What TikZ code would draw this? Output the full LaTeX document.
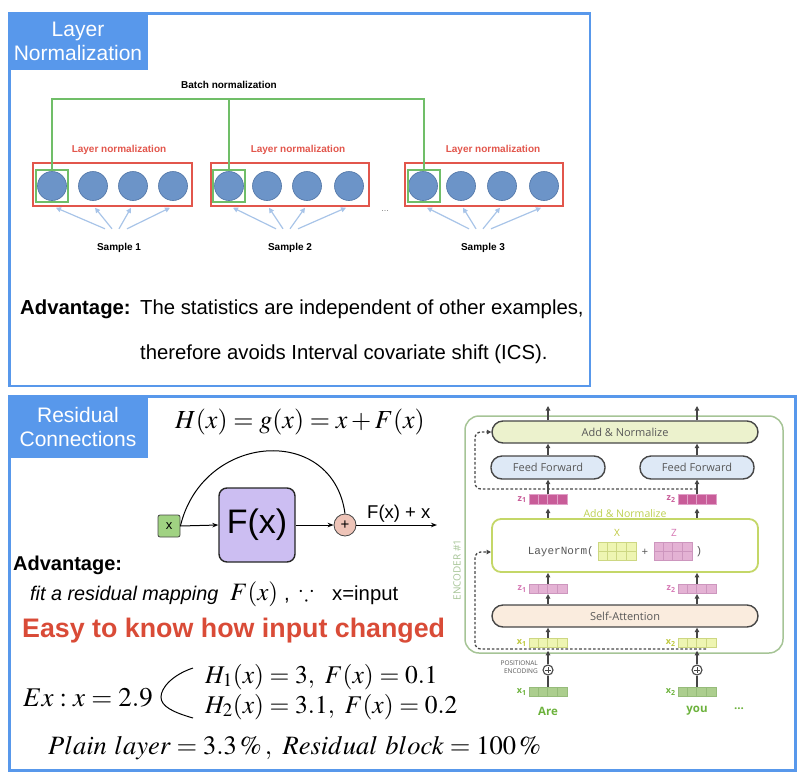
\documentclass[tikz,border=0pt]{standalone}
\usepackage{mathptmx}
\usepackage{amssymb}
\usepackage[no-math]{fontspec}
\setmainfont{Liberation Sans}
\newfontfamily\osans{Open Sans}
\newfontfamily\lmono{Liberation Mono}
\usetikzlibrary{arrows.meta,calc}
\definecolor{pblue}{RGB}{88,152,235}
\definecolor{nfill}{RGB}{108,148,200}
\definecolor{ndraw}{RGB}{78,115,165}
\definecolor{lnred}{RGB}{226,86,76}
\definecolor{bngreen}{RGB}{112,190,104}
\definecolor{sblue}{RGB}{168,196,232}
\definecolor{easyred}{RGB}{217,75,55}
\definecolor{encgreen}{RGB}{166,196,150}
\definecolor{dgray}{RGB}{70,70,70}
\definecolor{tgray}{RGB}{88,88,88}
\definecolor{addfill}{RGB}{236,242,205}
\definecolor{fffill}{RGB}{222,233,246}
\definecolor{safill}{RGB}{250,236,222}
\definecolor{lnline}{RGB}{196,215,104}
\definecolor{anlabel}{RGB}{188,208,80}
\definecolor{zdfill}{RGB}{200,92,152}
\definecolor{zdline}{RGB}{225,160,200}
\definecolor{zlfill}{RGB}{228,178,212}
\definecolor{zlline}{RGB}{205,150,190}
\definecolor{zlabel}{RGB}{214,120,180}
\definecolor{xyfill}{RGB}{238,245,178}
\definecolor{xyline}{RGB}{205,215,130}
\definecolor{xylabel}{RGB}{190,200,60}
\definecolor{xgfill}{RGB}{172,206,142}
\definecolor{xgline}{RGB}{150,188,122}
\definecolor{wgreen}{RGB}{108,178,60}
\definecolor{xboxfill}{RGB}{160,210,130}
\definecolor{fxfill}{RGB}{204,190,242}
\definecolor{plusfill}{RGB}{238,196,184}
\tikzset{
  panelline/.style={draw=pblue, line width=2.6pt},
  titlebox/.style={fill=pblue, text=white, minimum width=139pt, align=center, inner sep=0pt, font=\fontsize{21}{24}\selectfont},
  neuron/.style={circle, fill=nfill, draw=ndraw, line width=0.6pt, minimum size=29pt, inner sep=0pt},
  lnbox/.style={draw=lnred, line width=1.5pt, minimum height=43pt, inner sep=0pt},
  bnbox/.style={draw=bngreen, line width=1.3pt, minimum size=32pt, inner sep=0pt},
  bnline/.style={draw=bngreen, line width=1.3pt},
  sarrow/.style={draw=sblue, line width=1.2pt, -{Triangle[length=5pt,width=5pt]}},
  smalllabel/.style={font=\bfseries\fontsize{10}{12}\selectfont},
  lnlabel/.style={font=\bfseries\fontsize{10}{12}\selectfont, text=lnred},
  bodytext/.style={anchor=base west, inner sep=0pt, font=\fontsize{20.3}{22}\selectfont},
  mathtext/.style={anchor=base west, inner sep=0pt, font=\fontsize{26}{30}\selectfont},
  resarrow/.style={draw=black, line width=1pt, -{Stealth[length=6pt,width=4.5pt]}},
  xbox/.style={draw=dgray, fill=xboxfill, line width=0.8pt, rounded corners=2pt, minimum size=22pt, inner sep=0pt, font=\fontsize{13}{14}\selectfont},
  fxbox/.style={draw=black!85, fill=fxfill, line width=1.4pt, rounded corners=8pt, minimum width=76pt, minimum height=74pt, inner sep=0pt, font=\fontsize{34}{36}\selectfont},
  plusnode/.style={circle, draw=dgray, fill=plusfill, line width=0.8pt, minimum size=22pt, inner sep=0pt, font=\fontsize{15}{16}\selectfont},
  pill/.style={draw=dgray, line width=1.4pt, rounded corners=11pt, minimum height=22pt, inner sep=0pt, text=tgray, font=\osans\fontsize{11}{13}\selectfont},
  encarrow/.style={draw=dgray, line width=1.2pt, -{Triangle[length=4.5pt,width=4.5pt]}},
  resdash/.style={draw=dgray, line width=1.3pt, dash pattern=on 2.6pt off 2pt, rounded corners=6pt, -{Triangle[length=4.5pt,width=4.5pt]}},
  vecnode/.style={minimum width=38pt, minimum height=9.5pt, inner sep=0pt, line width=0.6pt},
  matnode/.style={minimum width=38pt, minimum height=18pt, inner sep=0pt, line width=0.6pt},
  veclabel/.style={font=\osans\bfseries\fontsize{9}{10}\selectfont, anchor=east, inner sep=2pt},
  penode/.style={circle, draw=dgray, line width=1.1pt, minimum size=10pt, inner sep=0pt}
}
\newcommand{\encvec}[4]{%
  \node[vecnode, fill=#3, draw=#4] (#1) at (#2) {};
  \foreach \k in {1,2,3}{\draw[draw=#4, line width=0.6pt] ($(#1.south west)+(\k*9.5,0)$) -- ($(#1.north west)+(\k*9.5,0)$);}
}
\newcommand{\encmat}[4]{%
  \node[matnode, fill=#3, draw=#4] (#1) at (#2) {};
  \foreach \k in {1,2,3}{\draw[draw=#4, line width=0.6pt] ($(#1.south west)+(\k*9.5,0)$) -- ($(#1.north west)+(\k*9.5,0)$);}
  \draw[draw=#4, line width=0.6pt] (#1.west) -- (#1.east);
}
\begin{document}
\begin{tikzpicture}[x=1pt,y=-1pt]
\useasboundingbox (0,0) rectangle (800,774);
% ================= top panel
\draw[panelline] (9.3,13.3) rectangle (590,386);
\node[titlebox, minimum height=58pt] (t1) at (78,41) {Layer\\Normalization};
\node[smalllabel] (bn) at (229,85) {Batch normalization};
\coordinate (bl) at (229,99);
\node[lnlabel] (ll1) at (119,150) {Layer normalization};
\node[lnlabel] (ll2) at (298,150) {Layer normalization};
\node[lnlabel] (ll3) at (493,150) {Layer normalization};
\node[lnbox, minimum width=159pt] (r1) at (112.5,184.5) {};
\node[lnbox, minimum width=158pt] (r2) at (290,184.5) {};
\node[lnbox, minimum width=158pt] (r3) at (484,184.5) {};
\node[neuron] (n11) at (52,186) {};
\node[neuron] (n12) at (93,186) {};
\node[neuron] (n13) at (133,186) {};
\node[neuron] (n14) at (173,186) {};
\node[neuron] (n21) at (229,186) {};
\node[neuron] (n22) at (267,186) {};
\node[neuron] (n23) at (307,186) {};
\node[neuron] (n24) at (349,186) {};
\node[neuron] (n31) at (423,186) {};
\node[neuron] (n32) at (461,186) {};
\node[neuron] (n33) at (502,186) {};
\node[neuron] (n34) at (544,186) {};
\node[bnbox] (g1) at (52,186) {};
\node[bnbox] (g2) at (229,186) {};
\node[bnbox] (g3) at (424,186) {};
\draw[bnline] (g1.north) -- (g1.north |- bl) -- (g3.north |- bl) -- (g3.north);
\draw[bnline] (g2.north) -- (g2.north |- bl);
\node[smalllabel] (s1) at (119,248) {Sample 1};
\node[smalllabel] (s2) at (290,248) {Sample 2};
\node[smalllabel] (s3) at (483,248) {Sample 3};
\foreach \s in {1,2,3}{
  \foreach \k/\dx/\tx in {1/-14/4, 2/-7/2, 3/0/-2, 4/8/-3}{
    \draw[sarrow] ($(s\s.north)+(\dx,-11)$) -- ($(n\s\k |- r\s.south)+(\tx,1)$);
  }
}
\node[font=\fontsize{9}{10}\selectfont, text=gray] (dots1) at (385,211) {...};
\node[bodytext, font=\bfseries\fontsize{20.3}{22}\selectfont] (adv1) at (20,314) {Advantage:};
\node[bodytext] (adv1a) at (140,314) {The statistics are independent of other examples,};
\node[bodytext] (adv1b) at (140,359) {therefore avoids Interval covariate shift (ICS).};
% ================= bottom panel
\draw[panelline] (9.3,396.3) rectangle (795.7,770.7);
\node[titlebox, minimum height=62pt] (t2) at (78,427) {Residual\\Connections};
\node[mathtext, font=\fontsize{26}{30}\selectfont] (heq) at (175,428) {$H(x) = g(x) = x + F(x)$};
% residual block
\node[xbox] (xin) at (169,526) {x};
\node[fxbox] (fx) at (257,525) {F(x)};
\node[plusnode] (pl) at (345,525) {+};
\coordinate (out) at (437,525);
\node[anchor=base west, inner sep=0pt, font=\fontsize{18.5}{20}\selectfont] (fxo) at (367,518) {F(x) + x};
\draw[resarrow] (xin.east) -- (fx.west);
\draw[resarrow] (fx.east) -- (pl.west);
\draw[resarrow] (pl.east) -- (out);
\draw[line width=1pt] (xin.east) .. controls (203,432) and (333,424) .. (pl.north);
% advantage
\node[bodytext, font=\bfseries\fontsize{20}{22}\selectfont] (adv2) at (13,570) {Advantage:};
\node[bodytext, font=\itshape\fontsize{19.8}{22}\selectfont] (fit) at (30,600) {fit a residual mapping};
\node[mathtext, font=\fontsize{25}{28}\selectfont] (fitm) at (230,600) {$F(x)$};
\node[bodytext] (comma) at (284,600) {,};
\node[mathtext, font=\fontsize{22}{24}\selectfont] (because) at (299,600) {$\because$};
\node[bodytext] (xeq) at (332,600) {x=input};
\node[bodytext, text=easyred, font=\bfseries\fontsize{26.8}{30}\selectfont] (easy) at (22,637) {Easy to know how input changed};
\node[mathtext, font=\fontsize{27}{30}\selectfont] (ex) at (23,706) {$Ex : x = 2.9$};
\node[mathtext, font=\fontsize{25.5}{30}\selectfont] (h1) at (205,683) {$H_1(x) = 3,\ F(x) = 0.1$};
\node[mathtext, font=\fontsize{25.5}{30}\selectfont] (h2) at (205,713) {$H_2(x) = 3.1,\ F(x) = 0.2$};
\coordinate (br1) at (193,668);
\coordinate (br2) at (161,697);
\coordinate (br3) at (193,718);
\draw[line width=1pt] (br1) .. controls (172,675) and (161,688) .. (br2) .. controls (161,706) and (172,712) .. (br3);
\node[mathtext, font=\fontsize{26.5}{30}\selectfont] (plain) at (48,754) {$Plain\ layer = 3.3\,\%\,,\ Residual\ block = 100\,\%$};
% ================= encoder
\node[draw=encgreen, line width=1.5pt, rounded corners=14pt, minimum width=318pt, minimum height=237pt] (enc) at (624,534.5) {};
\node[rotate=90, text=encgreen, font=\osans\fontsize{10}{12}\selectfont] (enclabel) at (457,570) {ENCODER \#1};
\node[pill, fill=addfill, minimum width=266pt] (addn) at (625,432) {Add \& Normalize};
\node[pill, fill=fffill, minimum width=114pt, minimum height=23pt] (ff1) at (548,467.5) {Feed Forward};
\node[pill, fill=fffill, minimum width=114pt, minimum height=23pt] (ff2) at (697,467.5) {Feed Forward};
\node[draw=lnline, line width=1.8pt, rounded corners=9pt, fill=white, minimum width=266pt, minimum height=53pt, inner sep=0pt] (ln) at (625,545.5) {};
\node[pill, fill=safill, minimum width=266pt] (sa) at (625,616) {Self-Attention};
\node[text=anlabel, font=\osans\fontsize{10.5}{12}\selectfont] (anl) at (625,514) {Add \& Normalize};
% vectors
\encvec{z1t}{548,499.5}{zdfill}{zdline}
\encvec{z2t}{697,499.5}{zdfill}{zdline}
\encvec{z1b}{548,589}{zlfill}{zlline}
\encvec{z2b}{697,589}{zlfill}{zlline}
\encvec{x1u}{548,643}{xyfill}{xyline}
\encvec{x2u}{697,643}{xyfill}{xyline}
\encvec{x1g}{548,692}{xgfill}{xgline}
\encvec{x2g}{697,692}{xgfill}{xgline}
\node[veclabel, text=zdfill] (lz1t) at (z1t.west) {z\textsubscript{1}};
\node[veclabel, text=zdfill] (lz2t) at (z2t.west) {z\textsubscript{2}};
\node[veclabel, text=zlabel] (lz1b) at (z1b.west) {z\textsubscript{1}};
\node[veclabel, text=zlabel] (lz2b) at (z2b.west) {z\textsubscript{2}};
\node[veclabel, text=xylabel] (lx1u) at (x1u.west) {x\textsubscript{1}};
\node[veclabel, text=xylabel] (lx2u) at (x2u.west) {x\textsubscript{2}};
\node[veclabel, text=wgreen] (lx1g) at (x1g.west) {x\textsubscript{1}};
\node[veclabel, text=wgreen] (lx2g) at (x2g.west) {x\textsubscript{2}};
% layernorm content
\node[anchor=east, inner sep=0pt, text=tgray, font=\lmono\fontsize{11}{12}\selectfont] (lntext) at (594,552) {LayerNorm(};
\encmat{mx}{617,551}{xyfill}{xyline}
\node[text=tgray, font=\lmono\fontsize{11}{12}\selectfont] (lnplus) at (645,552) {+};
\encmat{mz}{673,551}{zlfill}{zlline}
\node[text=tgray, font=\lmono\fontsize{11}{12}\selectfont] (lnclose) at (699,552) {)};
\node[text=xylabel, font=\osans\fontsize{10}{12}\selectfont] (lX) at (617,533) {X};
\node[text=zlabel, font=\osans\fontsize{10}{12}\selectfont] (lZ) at (674,533) {Z};
% positional encoding
\node[penode] (pe1) at (548,670) {};
\node[penode] (pe2) at (697,670) {};
\foreach \p in {pe1,pe2}{
  \draw[dgray, line width=1pt] ($(\p.center)+(-3,0)$) -- ($(\p.center)+(3,0)$);
  \draw[dgray, line width=1pt] ($(\p.center)+(0,-3)$) -- ($(\p.center)+(0,3)$);
}
\node[anchor=east, align=right, inner sep=0pt, text=tgray, font=\osans\fontsize{6.5}{8}\selectfont] (petext) at (538,667) {POSITIONAL\\ENCODING};
\node[font=\osans\bfseries\fontsize{11.5}{13}\selectfont, text=wgreen] (w1) at (548,711) {Are};
\node[font=\osans\bfseries\fontsize{11.5}{13}\selectfont, text=wgreen] (w2) at (697,711) {you};
\node[font=\osans\bfseries\fontsize{11.5}{13}\selectfont, text=wgreen] (w3) at (739,709) {...};
% arrows
\coordinate (o1) at (548,406);
\coordinate (o2) at (697,406);
\draw[encarrow] (addn.north -| ff1) -- (o1);
\draw[encarrow] (addn.north -| ff2) -- (o2);
\foreach \c in {1,2}{
  \draw[encarrow] (ff\c.north) -- (ff\c.north |- addn.south);
  \draw[encarrow] (z\c t.north) -- (ff\c.south);
  \draw[encarrow, shorten >=4pt] (ln.north -| z\c t) -- (z\c t.south);
  \draw[encarrow] (z\c b.north) -- (z\c b.north |- ln.south);
  \draw[encarrow] (sa.north -| z\c b) -- (z\c b.south);
  \draw[encarrow] (x\c u.north) -- (x\c u.north |- sa.south);
  \draw[encarrow, shorten >=-3pt] (pe\c.north) -- (pe\c.north |- enc.south);
  \draw[dgray, line width=1.2pt] (x\c g.north) -- (pe\c.south);
}
% residual dashed paths
\coordinate (dA1) at (706,649);
\coordinate (dA2) at (475,649);
\coordinate (dA3) at (475,552);
\coordinate (dA4) at (491,552);
\draw[resdash] (dA1) -- (dA2) -- (dA3) -- (dA4);
\coordinate (dB1) at (697,489);
\coordinate (dB2) at (475,489);
\coordinate (dB3) at (475,432);
\draw[resdash] (dB1) -- (dB2) -- (dB3) -- (addn.west);
\end{tikzpicture}
\end{document}
